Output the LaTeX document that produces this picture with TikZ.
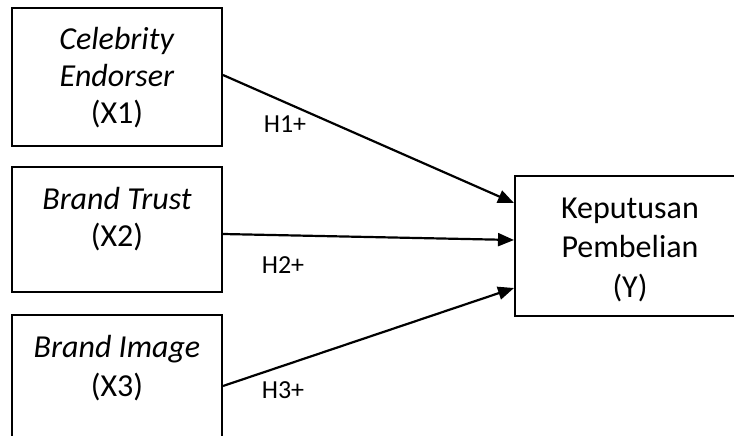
\documentclass[tikz,border=0pt]{standalone}
\usepackage{fontspec}
\setmainfont{Carlito}
\usetikzlibrary{arrows.meta}
\begin{document}
\begin{tikzpicture}[x=1pt,y=-1pt,
  box/.style={draw,line width=2pt,rectangle,inner sep=0pt},
  boxtext/.style={align=center,anchor=base,font=\fontsize{32}{37}\selectfont},
  hyp/.style={anchor=base,font=\fontsize{26}{28}\selectfont},
  link/.style={line width=2.2pt,-{Triangle[length=16pt,width=13pt]}}]
\useasboundingbox (0,0) rectangle (734,436);
\clip (0,0) rectangle (734,436);
\fill[white] (0,0) rectangle (734,436);
% boxes
\node[box,minimum width=210pt,minimum height=138pt] (b1) at (117,77) {};
\node[box,minimum width=210pt,minimum height=125pt] (b2) at (117,229.5) {};
\node[box,minimum width=210pt,minimum height=142pt] (b3) at (117,386) {};
\node[box,minimum width=230pt,minimum height=140pt] (y) at (630,246) {};
% texts
\node[boxtext] (t1) at (117,124) {\textit{Celebrity}\\\textit{Endorser}\\(X1)};
\node[boxtext] (t2) at (117,246) {\textit{Brand Trust}\\(X2)};
\node[boxtext,font=\fontsize{32}{39}\selectfont] (t3) at (117,396) {\textit{Brand Image}\\(X3)};
\node[boxtext,font=\fontsize{32}{39.5}\selectfont] (ty) at (630,297) {Keputusan\\Pembelian\\(Y)};
% arrows
\draw[link] ([yshift=2pt]b1.east) -- ([yshift=43pt]y.west);
\draw[link] ([yshift=-4.5pt]b2.east) -- ([yshift=6pt]y.west);
\draw[link] (b3.east) -- ([yshift=-42pt]y.west);
% labels
\node[hyp] (h1) at (285,132) {H1+};
\node[hyp] (h2) at (283,273) {H2+};
\node[hyp] (h3) at (283,398) {H3+};
\end{tikzpicture}
\end{document}
